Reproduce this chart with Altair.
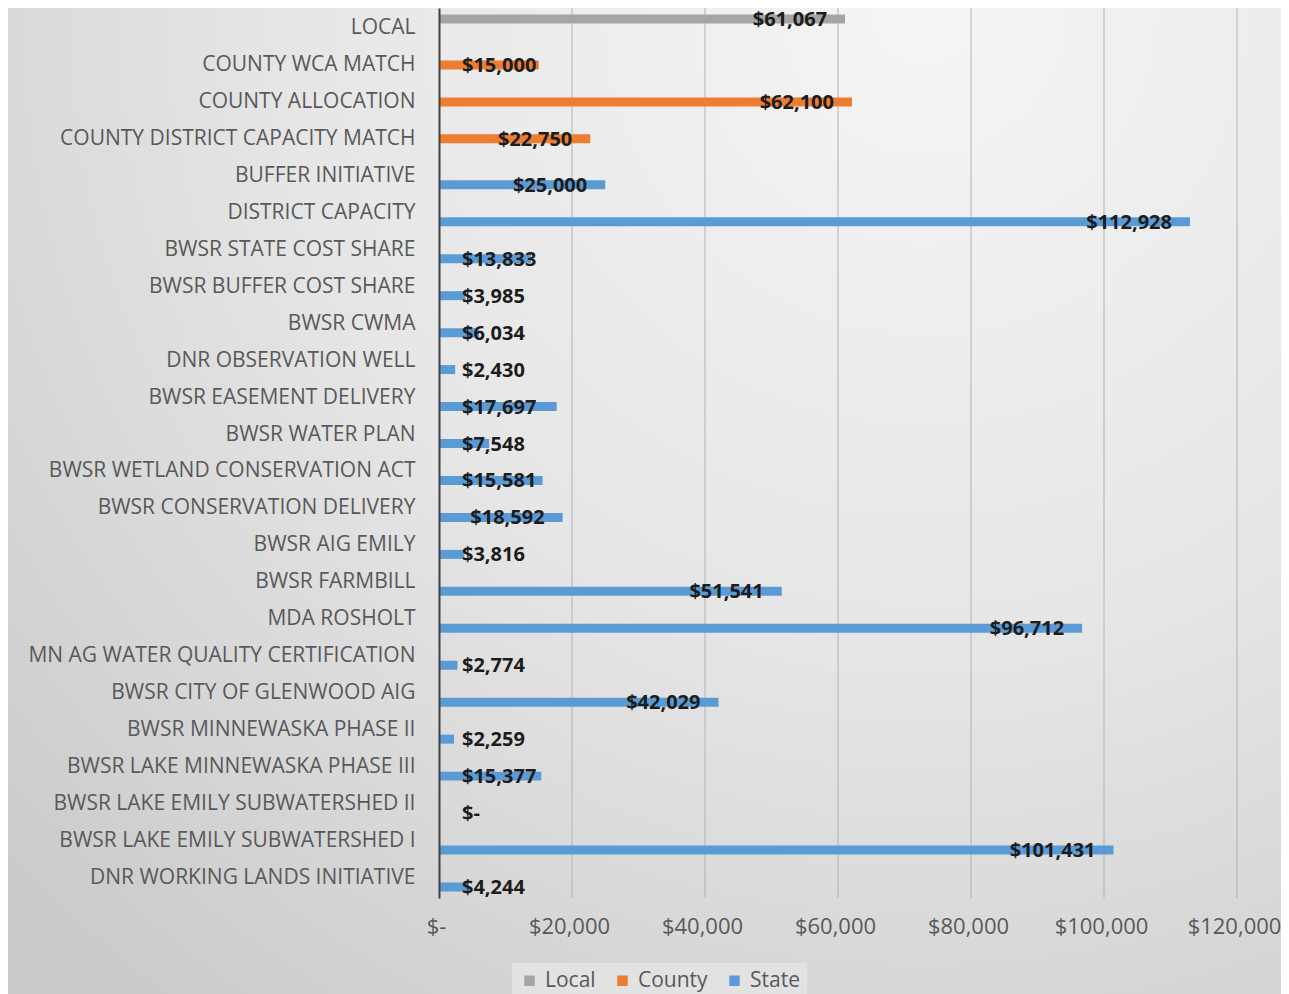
import altair as alt
import pandas as pd

categories = [
    "LOCAL", "COUNTY WCA MATCH", "COUNTY ALLOCATION", "COUNTY DISTRICT CAPACITY MATCH",
    "BUFFER INITIATIVE", "DISTRICT CAPACITY", "BWSR STATE COST SHARE", "BWSR BUFFER COST SHARE",
    "BWSR CWMA", "DNR OBSERVATION WELL ", "BWSR EASEMENT DELIVERY", "BWSR WATER PLAN",
    "BWSR WETLAND CONSERVATION ACT", "BWSR CONSERVATION DELIVERY", "BWSR AIG EMILY",
    "BWSR FARMBILL", "MDA ROSHOLT", "MN AG WATER QUALITY CERTIFICATION",
    "BWSR CITY OF GLENWOOD AIG", "BWSR MINNEWASKA PHASE II", "BWSR LAKE MINNEWASKA PHASE III",
    "BWSR LAKE EMILY SUBWATERSHED  II", "BWSR LAKE EMILY SUBWATERSHED  I", "DNR WORKING LANDS INITIATIVE",
]
sources = ["Local", "County", "County", "County"] + ["State"] * 20
values = [61067, 15000, 62100, 22750, 25000, 112928, 13833, 3985, 6034, 2430, 17697, 7548,
          15581, 18592, 3816, 51541, 96712, 2774, 42029, 2259, 15377, 0, 101431, 4244]

series = ["Local", "County", "State"]
colors = ["#a5a5a5", "#ed7d31", "#5b9bd5"]
x_ticks = [0, 20000, 40000, 60000, 80000, 100000, 120000]

df = pd.DataFrame({"cat": categories, "src": sources, "value": values})
grid_df = pd.DataFrame({"tick": x_ticks[1:]})

W, H = 798, 890
LAB_FONT = "Open Sans"

x_scale = alt.Scale(domain=[0, 120000], nice=False)
y_scale = alt.Scale(paddingInner=0.27, paddingOuter=0.176)
yoff_scale = alt.Scale(domain=series, paddingInner=0, paddingOuter=0)

bg = alt.Chart(alt.Data(values=[{}])).mark_rect(
    fill={
        "gradient": "radial",
        "x1": 0.72, "y1": 0.12, "r1": 0.0,
        "x2": 0.72, "y2": 0.12, "r2": 1.0,
        "stops": [
            {"offset": 0, "color": "#f5f5f5"},
            {"offset": 0.5, "color": "#e6e6e6"},
            {"offset": 1, "color": "#cacaca"},
        ],
    }
).encode(
    x=alt.value(-431), x2=alt.value(W + 44), y=alt.value(-8), y2=alt.value(H + 96)
)

grid = alt.Chart(grid_df).mark_rule(color="#b2b2b2", strokeWidth=1).encode(
    x=alt.X("tick:Q", scale=x_scale)
)

base = alt.Chart(df)

y_enc = alt.Y(
    "cat:N", sort=categories, title=None, scale=y_scale,
    axis=alt.Axis(
        labelFont=LAB_FONT, labelFontSize=21, labelColor="#595959", labelPadding=24,
        ticks=False, domain=True, domainColor="#404040", domainWidth=2, grid=False,
        labelLimit=430, zindex=1,
    ),
)

x_enc = alt.X(
    "value:Q", title=None, scale=x_scale,
    axis=alt.Axis(
        values=x_ticks,
        labelExpr="datum.value == 0 ? '$-' : '$' + format(datum.value, ',')",
        labelFont=LAB_FONT, labelFontSize=22, labelColor="#595959", labelPadding=18,
        labelFlush=False, labelOverlap=False, labelOffset=-3,
        ticks=False, domain=False, grid=False, zindex=1,
    ),
)

yoff = alt.YOffset("src:N", scale=yoff_scale)

bars = base.mark_bar().encode(
    y=y_enc,
    x=x_enc,
    yOffset=yoff,
    color=alt.Color(
        "src:N", title=None,
        scale=alt.Scale(domain=series, range=colors),
        legend=alt.Legend(
            orient="none", legendX=73, legendY=955, direction="horizontal",
            symbolType="square", symbolSize=110, symbolStrokeWidth=0,
            labelFont=LAB_FONT, labelFontSize=21, labelColor="#595959",
            fillColor="#e2e2e2", padding=7, columnPadding=16, labelOffset=5,
        ),
    ),
)

label_expr = "datum.value == 0 ? '$-' : '$' + format(datum.value, ',')"

text_right = base.transform_filter("datum.value >= 18000").transform_calculate(
    lab=label_expr
).mark_text(
    align="right", baseline="middle", dx=-18, dy=1,
    font=LAB_FONT, fontWeight="bold", fontSize=20, color="#1c1c1c",
).encode(y=alt.Y("cat:N", sort=categories), yOffset=yoff, x="value:Q", text="lab:N")

text_left = base.transform_filter("datum.value < 18000").transform_calculate(
    lab=label_expr, zero="0"
).mark_text(
    align="left", baseline="middle", dx=23, dy=1,
    font=LAB_FONT, fontWeight="bold", fontSize=20, color="#1c1c1c",
).encode(y=alt.Y("cat:N", sort=categories), yOffset=yoff, x="zero:Q", text="lab:N")

chart = alt.layer(bg, grid, bars, text_right, text_left).properties(
    width=W, height=H,
    autosize=alt.AutoSizeParams(type="none"),
    padding={"left": 431, "top": 0, "right": 44, "bottom": 96},
    background="#d8d8d8",
).configure_view(stroke=None)

chart.save("out.html", embed_options={"renderer": "svg", "actions": False})
